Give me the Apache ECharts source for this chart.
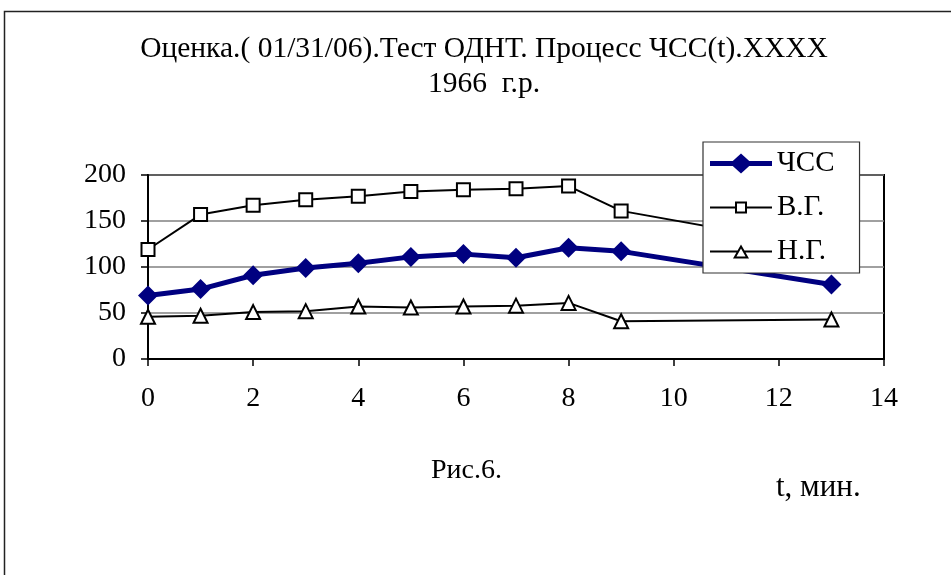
<!DOCTYPE html>
<html>
<head>
<meta charset="utf-8">
<script src="https://cdn.jsdelivr.net/npm/echarts@6/dist/echarts.min.js"></script>
<style>
html,body{margin:0;padding:0;background:#fff;}
#chart{width:951px;height:575px;}
</style>
</head>
<body>
<div id="chart"></div>
<script>
// Data
const tMin = [0, 1, 2, 3, 4, 5, 6, 7, 8, 9, 13];
const hrValues = [69, 76, 91, 99, 104, 111, 114, 110, 121, 117, 81];          // ЧСС
const upperValues = [119, 157, 167, 173, 177, 182, 184, 185, 188, 161, 120];  // В.Г.
const lowerValues = [46, 47, 51, 52, 57, 56, 57, 58, 61, 41, 43];             // Н.Г.
const seriesNames = ['ЧСС', 'В.Г.', 'Н.Г.'];
const titleText = 'Оценка.( 01/31/06).Тест ОДНТ. Процесс ЧСС(t).XXXX\n1966  г.р.';
const figCaption = 'Рис.6.';
const xAxisName = 't, мин.';

const FONT = "'Liberation Serif', 'Times New Roman', serif";
const pairs = (xs, ys) => xs.map((x, i) => [x, ys[i]]);

// legend icons: line sample with marker (62 x 22 box)
const iconDiamond = 'path://M0,8.5 L22.75,8.5 L31,1 L39.25,8.5 L62,8.5 L62,13.5 L39.25,13.5 L31,21 L22.75,13.5 L0,13.5 Z';
const iconSquare = 'path://M0,10 L25,10 L25,5 L37,5 L37,10 L62,10 L62,12 L37,12 L37,17 L25,17 L25,12 L0,12 Z M27,7 L27,15 L35,15 L35,7 Z';
const iconTriangle = 'path://M0,10 L27.57,10 L31,4 L34.43,10 L62,10 L62,12 L35.57,12 L39,18 L23,18 L26.43,12 L0,12 Z M31,8.03 L26.44,16 L35.56,16 Z';

const chart = echarts.init(document.getElementById('chart'), null, {renderer: 'canvas'});
chart.setOption({
  backgroundColor: '#ffffff',
  animation: false,
  title: {
    text: titleText,
    left: 484,
    textAlign: 'center',
    top: 32,
    padding: 0,
    textStyle: {fontFamily: FONT, fontWeight: 'normal', fontSize: 29.5, lineHeight: 35, color: '#000'}
  },
  grid: {
    left: 148, right: 67, top: 175, bottom: 216,
    show: true, borderColor: '#000', borderWidth: 2, backgroundColor: 'transparent'
  },
  legend: {
    orient: 'vertical',
    left: 703, top: 142,
    padding: [7, 25, 7, 7],
    itemWidth: 62, itemHeight: 22, itemGap: 15,
    symbolKeepAspect: true,
    backgroundColor: '#fff',
    borderColor: '#333', borderWidth: 1.2, borderRadius: 0,
    textStyle: {fontFamily: FONT, fontSize: 29, color: '#000'},
    data: [
      {name: seriesNames[0], icon: iconDiamond, itemStyle: {color: '#000080', borderWidth: 0}},
      {name: seriesNames[1], icon: iconSquare, itemStyle: {color: '#000', borderWidth: 0}},
      {name: seriesNames[2], icon: iconTriangle, itemStyle: {color: '#000', borderWidth: 0}}
    ],
    z: 10
  },
  xAxis: {
    type: 'value', min: 0, max: 14, interval: 2,
    axisLine: {show: true, onZero: false, lineStyle: {color: '#000', width: 2}},
    axisTick: {show: true, length: 7, inside: false, lineStyle: {color: '#000', width: 1.5}},
    axisLabel: {fontFamily: FONT, fontSize: 28, color: '#000', margin: 26},
    splitLine: {show: false}
  },
  yAxis: {
    type: 'value', min: 0, max: 200, interval: 50,
    axisLine: {show: true, onZero: false, lineStyle: {color: '#000', width: 2}},
    axisTick: {show: true, length: 7, inside: false, lineStyle: {color: '#000', width: 1.5}},
    axisLabel: {fontFamily: FONT, fontSize: 28, color: '#000', margin: 22},
    splitLine: {show: true, lineStyle: {color: '#808080', width: 1.5}}
  },
  series: [
    {
      name: seriesNames[1], type: 'line', data: pairs(tMin, upperValues),
      symbol: 'rect', symbolSize: 13,
      lineStyle: {color: '#000', width: 2},
      itemStyle: {color: '#fff', borderColor: '#000', borderWidth: 2},
      z: 3
    },
    {
      name: seriesNames[2], type: 'line', data: pairs(tMin, lowerValues),
      symbol: 'triangle', symbolSize: 14,
      lineStyle: {color: '#000', width: 2},
      itemStyle: {color: '#fff', borderColor: '#000', borderWidth: 2},
      z: 3
    },
    {
      name: seriesNames[0], type: 'line', data: pairs(tMin, hrValues),
      symbol: 'diamond', symbolSize: 20,
      lineStyle: {color: '#000080', width: 5},
      itemStyle: {color: '#000080', borderColor: '#000080', borderWidth: 0},
      z: 4
    }
  ],
  graphic: [
    {
      type: 'rect', z: -1, silent: true,
      shape: {x: 4.5, y: 11.5, width: 980, height: 620},
      style: {fill: 'none', stroke: '#222', lineWidth: 1.5}
    },
    {
      type: 'text', x: 431, y: 471, silent: true,
      style: {text: figCaption, font: "28px " + FONT, fill: '#000', align: 'left', verticalAlign: 'middle'}
    },
    {
      type: 'text', x: 776, y: 488, silent: true,
      style: {text: xAxisName, font: "31px " + FONT, fill: '#000', align: 'left', verticalAlign: 'middle'}
    }
  ]
});
</script>
</body>
</html>
